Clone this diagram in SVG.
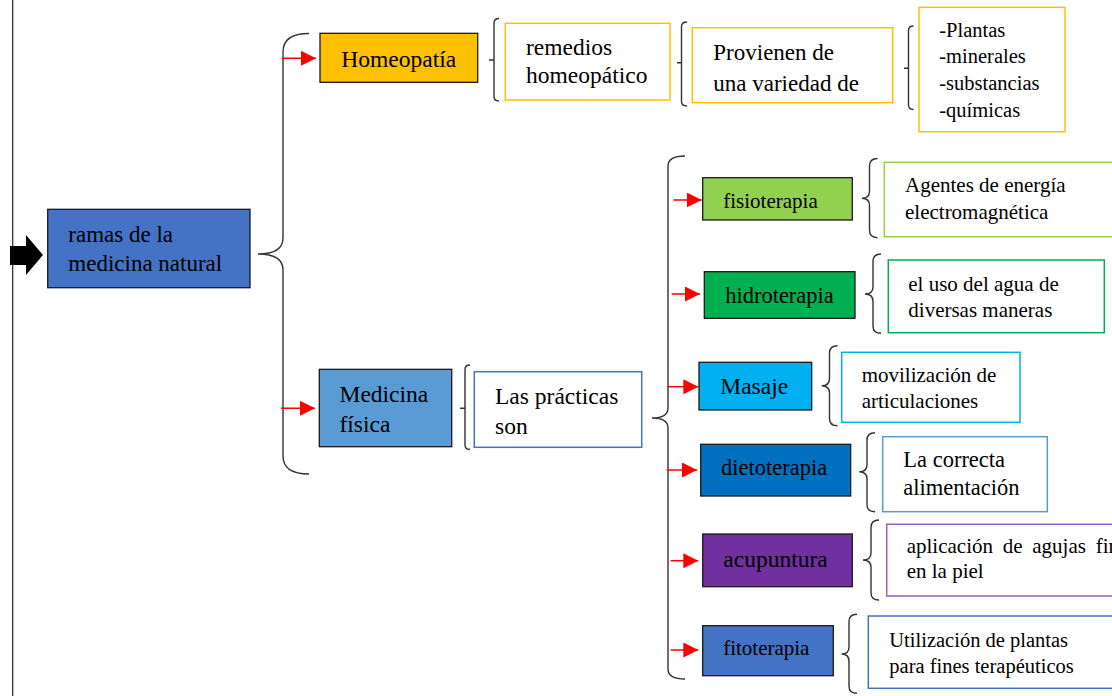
<svg xmlns="http://www.w3.org/2000/svg" width="1112" height="696" viewBox="0 0 1112 696">
<style>
.t{font-family:"Liberation Serif","Times New Roman",serif;fill:#000}
.f{stroke:#1a1a1a;stroke-width:1.3}
.o{fill:#fff;stroke-width:1.5}
.br{fill:none;stroke:#333;stroke-width:1.4}
.ar{stroke:#ff0000;stroke-width:1.5;marker-end:url(#rh)}
</style>
<defs>
<marker id="rh" markerUnits="userSpaceOnUse" markerWidth="16" markerHeight="16" refX="15" refY="7.5" orient="auto">
<path d="M0,0 L15,7.5 L0,15 z" fill="#ff0000"/>
</marker>
</defs>
<rect width="1112" height="696" fill="#fff"/>
<g id="connectors">
<line x1="12.7" y1="0" x2="12.7" y2="696" stroke="#222" stroke-width="1.2"/>
<polygon points="10,246 26,246 26,235 43,255 26,275 26,265 10,265" fill="#000"/>
<path class="br" d="M309,33.5 Q283,33.5 283,52 L283,238 Q283,254 258,254 Q283,254 283,270 L283,456 Q283,474 309,474"/>
<path class="br" d="M685,156 Q668,156 668,166 L668,408 Q668,418 652,418 Q668,418 668,428 L668,669 Q668,679 685,679"/>
<path class="br" d="M499,18.5 Q494,18.5 494,23 L494,96.5 Q494,101 499,101 M489,60 L494,60"/>
<path class="br" d="M687,22 Q681.5,22 681.5,26.5 L681.5,101.5 Q681.5,106 687,106 M677,62.7 L681.5,62.7"/>
<path class="br" d="M913.5,26 Q908.5,26 908.5,30.5 L908.5,105 Q908.5,109.5 913.5,109.5 M904,68.3 L908.5,68.3"/>
<path class="br" d="M470,365 Q465,365 465,369.5 L465,445 Q465,449.5 470,449.5 M460,408.3 L465,408.3"/>
<path class="br" d="M877.5,158.5 Q869.5,158.5 869.5,166 L869.5,191 Q869.5,198.3 862,198.3 Q869.5,198.3 869.5,205.6 L869.5,230 Q869.5,237.7 877.5,237.7"/>
<path class="br" d="M881,254 Q873,254 873,261.5 L873,286.7 Q873,294 865,294 Q873,294 873,301.3 L873,326 Q873,333.3 881,333.3"/>
<path class="br" d="M837.5,345.7 Q829.5,345.7 829.5,353 L829.5,378.4 Q829.5,385.7 821.7,385.7 Q829.5,385.7 829.5,393 L829.5,418.4 Q829.5,425.7 837.5,425.7"/>
<path class="br" d="M875,432.7 Q867,432.7 867,440 L867,464.4 Q867,471.7 859.3,471.7 Q867,471.7 867,479 L867,504.4 Q867,511.7 875,511.7"/>
<path class="br" d="M879,520 Q871,520 871,527.3 L871,552.7 Q871,560 863,560 Q871,560 871,567.3 L871,592.7 Q871,600 879,600"/>
<path class="br" d="M857,614.3 Q849,614.3 849,621.6 L849,646.7 Q849,654 841.7,654 Q849,654 849,661.3 L849,686 Q849,693.3 857,693.3"/>
<line class="ar" x1="281.7" y1="58.3" x2="316" y2="58.3"/>
<line class="ar" x1="281" y1="408.3" x2="315" y2="408.3"/>
<line class="ar" x1="673.3" y1="200" x2="701.7" y2="200"/>
<line class="ar" x1="671.7" y1="294" x2="700" y2="294"/>
<line class="ar" x1="667.7" y1="386.7" x2="698.3" y2="386.7"/>
<line class="ar" x1="666.7" y1="470" x2="697" y2="470"/>
<line class="ar" x1="670.7" y1="560.7" x2="698.3" y2="560.7"/>
<line class="ar" x1="670.7" y1="650" x2="698.3" y2="650"/>
</g>
<g id="ramas">
<rect class="f" x="47.7" y="209.3" width="202.3" height="78.4" fill="#4472C4"/>
<text class="t" font-size="23" x="68.3" y="241.7">ramas de la</text>
<text class="t" font-size="23" x="68.3" y="271">medicina natural</text>
</g>
<g id="homeopatia">
<rect class="f" x="320" y="33.3" width="157.7" height="49" fill="#FFC000"/>
<text class="t" font-size="23.5" x="398.7" y="66.7" text-anchor="middle">Homeopatía</text>
</g>
<g id="remedios">
<rect class="o" x="505.3" y="23.3" width="164.7" height="76.7" stroke="#FFC000"/>
<text class="t" font-size="23.5" x="526" y="55">remedios</text>
<text class="t" font-size="23.5" x="526" y="82.7">homeopático</text>
</g>
<g id="provienen">
<rect class="o" x="692.3" y="27.7" width="200.4" height="75" stroke="#FFC000"/>
<text class="t" font-size="23" x="713.3" y="60">Provienen de</text>
<text class="t" font-size="23" x="713.3" y="90.7">una variedad de</text>
</g>
<g id="lista">
<rect class="o" x="919" y="7.3" width="146" height="124.4" stroke="#FFC000"/>
<text class="t" font-size="20.5" x="939.3" y="36.7">-Plantas</text>
<text class="t" font-size="20.5" x="939.3" y="62.7">-minerales</text>
<text class="t" font-size="20.5" x="939.3" y="90">-substancias</text>
<text class="t" font-size="20.5" x="939.3" y="116.7">-químicas</text>
</g>
<g id="medicina-fisica">
<rect class="f" x="319.3" y="369.3" width="132.4" height="77.4" fill="#5B9BD5"/>
<text class="t" font-size="23.5" x="339.5" y="402">Medicina</text>
<text class="t" font-size="23.5" x="339.5" y="432">física</text>
</g>
<g id="practicas">
<rect class="o" x="474.3" y="371.7" width="167.4" height="75.6" stroke="#4472C4"/>
<text class="t" font-size="23.5" x="495" y="404">Las prácticas</text>
<text class="t" font-size="23.5" x="495" y="434">son</text>
</g>
<g id="fisioterapia">
<rect class="f" x="702.7" y="177.7" width="149.6" height="42.3" fill="#92D050"/>
<text class="t" font-size="21" x="770.5" y="207.7" text-anchor="middle">fisioterapia</text>
</g>
<g id="agentes">
<rect class="o" x="884.3" y="162.3" width="240" height="74.4" stroke="#92D050"/>
<text class="t" font-size="21" x="905" y="191.7">Agentes de energía</text>
<text class="t" font-size="21" x="905" y="219">electromagnética</text>
</g>
<g id="hidroterapia">
<rect class="f" x="704.3" y="271.7" width="150.7" height="46.6" fill="#00B050"/>
<text class="t" font-size="22.5" x="779.5" y="303.3" text-anchor="middle">hidroterapia</text>
</g>
<g id="agua">
<rect class="o" x="888.3" y="260" width="216" height="72.7" stroke="#00B050"/>
<text class="t" font-size="21" x="908.3" y="290.7">el uso del agua de</text>
<text class="t" font-size="21" x="908.3" y="316.7">diversas maneras</text>
</g>
<g id="masaje">
<rect class="f" x="699" y="362.3" width="112.7" height="47.7" fill="#00B0F0"/>
<text class="t" font-size="23.5" x="754.2" y="394.3" text-anchor="middle">Masaje</text>
</g>
<g id="movilizacion">
<rect class="o" x="841.7" y="352.3" width="178.3" height="70" stroke="#00B0F0"/>
<text class="t" font-size="21" x="861.7" y="381.7">movilización de</text>
<text class="t" font-size="21" x="861.7" y="408.3">articulaciones</text>
</g>
<g id="dietoterapia">
<rect class="f" x="700.7" y="444.3" width="150" height="51.7" fill="#0070C0"/>
<text class="t" font-size="22.5" x="774.2" y="475" text-anchor="middle">dietoterapia</text>
</g>
<g id="alimentacion">
<rect class="o" x="882.7" y="436.7" width="164.6" height="75" stroke="#5B9BD5"/>
<text class="t" font-size="22.5" x="903.3" y="466.7">La correcta</text>
<text class="t" font-size="22.5" x="903.3" y="495">alimentación</text>
</g>
<g id="acupuntura">
<rect class="f" x="702.7" y="534" width="149.6" height="52.7" fill="#7030A0"/>
<text class="t" font-size="23.5" x="775.5" y="566.7" text-anchor="middle">acupuntura</text>
</g>
<g id="agujas">
<rect class="o" x="886.7" y="524.3" width="240" height="71.7" stroke="#9060C0"/>
<text class="t" font-size="21" x="906.7" y="553.3" word-spacing="4.5">aplicación de agujas finas</text>
<text class="t" font-size="21" x="906.7" y="578.3">en la piel</text>
</g>
<g id="fitoterapia">
<rect class="f" x="702.7" y="625.7" width="130.6" height="50" fill="#4472C4"/>
<text class="t" font-size="21" x="766.3" y="655" text-anchor="middle">fitoterapia</text>
</g>
<g id="plantas">
<rect class="o" x="868.3" y="616" width="260" height="72.3" stroke="#4472C4"/>
<text class="t" font-size="20.5" x="889.3" y="646.7">Utilización de plantas</text>
<text class="t" font-size="20.5" x="889.3" y="672.7">para fines terapéuticos</text>
</g>
</svg>
